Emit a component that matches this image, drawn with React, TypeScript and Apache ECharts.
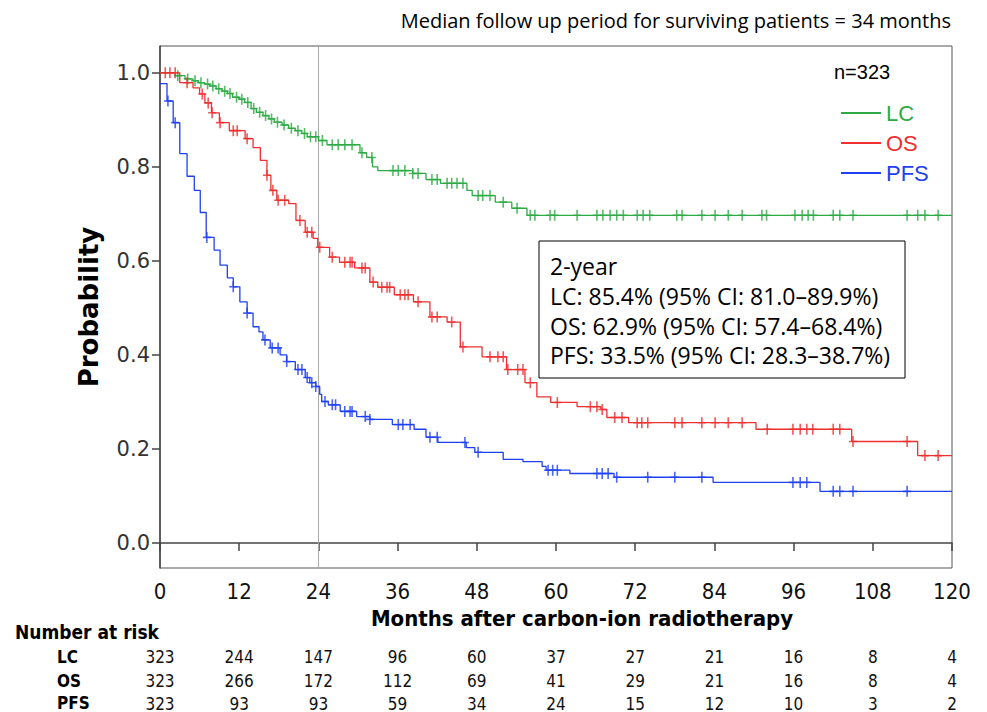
import React, { useEffect, useRef } from "react";
import * as echarts from "echarts";

// ---------- data ----------
const riskMonths = [0, 12, 24, 36, 48, 60, 72, 84, 96, 108, 120];
const riskLC = [323, 244, 147, 96, 60, 37, 27, 21, 16, 8, 4];
const riskOS = [323, 266, 172, 112, 69, 41, 29, 21, 16, 8, 4];
const riskPFS = [323, 93, 93, 59, 34, 24, 15, 12, 10, 3, 2];
const yTicks = [0, 0.2, 0.4, 0.6, 0.8, 1.0];

// Kaplan-Meier steps [month, survival]
const lcSteps: [number, number][] = [
  [0, 1], [2.3, 0.994], [3.8, 0.987], [5, 0.983], [5.8, 0.979], [6.8, 0.976], [7.5, 0.972],
  [8.5, 0.966], [9.4, 0.961], [10.2, 0.956], [11, 0.948], [12, 0.944], [12.8, 0.937],
  [13.8, 0.924], [14.6, 0.916], [15.6, 0.909], [16.5, 0.902], [17.3, 0.895], [18.5, 0.889],
  [19.5, 0.882], [20.5, 0.877], [21.5, 0.871], [22.3, 0.864], [24, 0.856], [25.3, 0.847],
  [30.3, 0.83], [31.3, 0.82], [32.2, 0.8], [33, 0.792], [38.3, 0.786], [40.3, 0.773],
  [42.5, 0.765], [46.5, 0.75], [47.3, 0.739], [50.8, 0.725], [53.3, 0.712], [55.6, 0.697],
];
const lcCensor = [
  2.7, 4.2, 5.3, 6.2, 7.2, 8, 8.9, 9.8, 10.6, 11.6, 12.4, 13.3, 14.2, 15.1, 16, 16.9, 17.8,
  18.8, 19.9, 20.9, 21.9, 22.8, 23.6, 24.6, 26.1, 27, 28, 29.1, 30.6, 32.1, 35.3, 36.1, 37.1,
  38.3, 39.1, 41.2, 42, 43.5, 44.2, 45, 45.9, 48.2, 48.9, 50, 52, 54.1, 56.1, 56.8, 59.1, 59.8,
  63.2, 66.2, 67.1, 68.2, 69.2, 70.2, 72.3, 73.2, 74.2, 78.3, 79.1, 82.1, 84.1, 86.1, 88.2,
  91.2, 91.9, 96.2, 97.3, 98.2, 99.0, 102.0, 103.0, 105.0, 113.2, 114.8, 115.9, 117.9,
];

const osSteps: [number, number][] = [
  [0, 1], [3, 0.979], [5, 0.968], [6, 0.955], [6.8, 0.936], [7.8, 0.915], [9, 0.894],
  [10.5, 0.877], [12.9, 0.86], [14.1, 0.841], [15.2, 0.814], [16.2, 0.782], [16.8, 0.75],
  [17.7, 0.729], [19.5, 0.722], [20.6, 0.686], [22, 0.661], [23.2, 0.648], [23.9, 0.629],
  [25.7, 0.608], [27.2, 0.597], [29.5, 0.585], [31.8, 0.555], [33, 0.544], [35.5, 0.528],
  [38.4, 0.513], [40.9, 0.481], [43.5, 0.47], [45.5, 0.417], [48.8, 0.396], [52.5, 0.369],
  [55.3, 0.341], [57.1, 0.311], [59.2, 0.299], [63.2, 0.29], [66.8, 0.284], [67.7, 0.267],
  [71, 0.256], [90.3, 0.242], [104.8, 0.216], [114.8, 0.186],
];
const osCensor = [
  0.8, 1.5, 2.3, 4.1, 6.4, 7.3, 7.9, 9.1, 11.1, 11.7, 13.2, 16.2, 17.1, 17.9, 18.9, 21.2, 22.3,
  23.0, 24.2, 26.1, 28.0, 28.8, 29.1, 30.6, 31.1, 32.3, 33.6, 34.4, 34.8, 36.4, 37.1, 37.6,
  39.1, 41.2, 42.0, 44.2, 45.9, 50.0, 51.2, 52.0, 52.7, 54.2, 55.0, 56.1, 60.2, 65.2, 66.2,
  67.0, 68.9, 70.0, 72.3, 73.0, 73.9, 78.0, 79.1, 82.1, 84.1, 86.1, 88.2, 92.0, 95.9, 97.0,
  98.0, 98.9, 102.0, 103.0, 105.0, 113.2, 115.9, 117.9,
];

const pfsSteps: [number, number][] = [
  [0, 0.977], [1.06, 0.94], [2.0, 0.894], [3.0, 0.828], [4.1, 0.78], [5.2, 0.75], [6.1, 0.703],
  [7.0, 0.65], [8.2, 0.623], [9.1, 0.591], [10.2, 0.564], [11.1, 0.545], [12.1, 0.513],
  [13.2, 0.489], [14.1, 0.46], [15.0, 0.449], [15.6, 0.432], [16.7, 0.415], [18.2, 0.4],
  [19.2, 0.386], [20.5, 0.369], [22.0, 0.352], [22.7, 0.341], [23.6, 0.333], [24.2, 0.316],
  [24.5, 0.301], [25.5, 0.294], [27.3, 0.28], [29.8, 0.269], [31.8, 0.263], [35.2, 0.252],
  [38.5, 0.242], [40.3, 0.225], [42.1, 0.214], [46.4, 0.203], [47.7, 0.193], [52.0, 0.178],
  [55.0, 0.173], [57.9, 0.163], [58.5, 0.155], [62.1, 0.148], [68.8, 0.14], [83.8, 0.129],
  [100, 0.11],
];
const pfsCensor = [
  1.2, 2.3, 7.1, 11.1, 13.2, 15.9, 17.0, 17.9, 19.2, 20.9, 21.5, 22.3, 23.0, 23.6, 25.0, 26.1,
  26.6, 28.0, 28.8, 29.1, 31.1, 31.8, 36.1, 36.8, 37.9, 40.9, 42.0, 46.2, 48.2, 58.8, 59.5,
  60.2, 66.2, 67.0, 67.9, 69.2, 73.9, 78.0, 82.1, 95.9, 97.0, 98.0, 102.0, 103.0, 105.0, 113.2,
];

// ---------- styles ----------
const GREEN = "#2DAA43";
const RED = "#EE3030";
const BLUE = "#1E40F0";
const NARROW = "'Liberation Sans Narrow', 'DejaVu Sans Condensed', 'Arial Narrow', sans-serif";
const PLUS = "path://M3.2,0H4.8V11H3.2Z M0,4.7H8V6.3H0Z";

const levelAt = (steps: [number, number][], t: number) => {
  let v = steps[0][1];
  for (const [tt, s] of steps) if (tt <= t) v = s;
  return v;
};
const curve = (steps: [number, number][]) => [...steps, [120, steps[steps.length - 1][1]]];
const censorPts = (steps: [number, number][], cs: number[]) => cs.map((t) => [t, levelAt(steps, t)]);

const riskAxis = (vals: number[], offset: number) => ({
  type: "value",
  gridIndex: 0,
  position: "bottom",
  offset,
  min: 0,
  max: 120,
  interval: 12,
  axisLine: { show: false },
  axisTick: { show: false },
  splitLine: { show: false },
  axisLabel: {
    margin: 0,
    fontSize: 17,
    fontFamily: NARROW,
    color: "#111",
    formatter: (v: number) => {
      const i = riskMonths.indexOf(Math.round(v));
      return i >= 0 ? String(vals[i]) : "";
    },
  },
});

export default function App() {
  const ref = useRef<HTMLDivElement>(null);
  useEffect(() => {
    if (!ref.current) return;
    const chart = echarts.init(ref.current, undefined, { renderer: "svg" });
    const lineSeries = (name: string, steps: [number, number][], color: string, extra: any = {}) => ({
      name,
      type: "line",
      step: "end",
      data: curve(steps),
      showSymbol: false,
      symbol: "none",
      lineStyle: { color, width: 1.3 },
      itemStyle: { color },
      z: 3,
      ...extra,
    });
    const censorSeries = (name: string, steps: [number, number][], cs: number[], color: string) => ({
      name,
      type: "scatter",
      data: censorPts(steps, cs),
      symbol: PLUS,
      symbolSize: [8, 11],
      itemStyle: { color },
      silent: true,
      z: 4,
    });
    const tableText = (text: string, x: number, y: number, size: number, bold = true) => ({
      type: "text",
      x,
      y,
      style: {
        text,
        fontSize: size,
        fontWeight: bold ? "bold" : "normal",
        fontFamily: NARROW,
        fill: "#000",
        verticalAlign: "middle",
      },
    });
    const boxText = (text: string, y: number) => ({
      type: "text",
      x: 550,
      y,
      style: { text, fontSize: 23, fontFamily: "'Open Sans', sans-serif", fill: "#000", verticalAlign: "middle" },
    });

    chart.setOption({
      animation: false,
      backgroundColor: "#fff",
      title: {
        text: "Median follow up period for surviving patients = 34 months",
        right: 31,
        top: 5,
        textStyle: { fontFamily: "'Open Sans', sans-serif", fontSize: 20, fontWeight: "normal", color: "#000" },
      },
      legend: {
        data: [
          { name: "LC", textStyle: { color: GREEN } },
          { name: "OS", textStyle: { color: RED } },
          { name: "PFS", textStyle: { color: BLUE } },
        ],
        orient: "vertical",
        left: 836,
        top: 97,
        itemWidth: 40,
        itemHeight: 2,
        icon: "rect",
        itemGap: 8,
        selectedMode: false,
        textStyle: { fontSize: 22, fontFamily: "'Liberation Sans', Arial, sans-serif" },
      },
      grid: { left: 160, right: 35, top: 46, bottom: 143, show: true, borderColor: "#555", borderWidth: 1 },
      xAxis: [
        {
          type: "value",
          min: 0,
          max: 120,
          interval: 12,
          axisLine: { lineStyle: { color: "#444", width: 1.5 } },
          axisTick: { length: 8, lineStyle: { color: "#444", width: 1.5 } },
          axisLabel: { fontSize: 22, margin: 12, color: "#111", fontFamily: NARROW },
          splitLine: { show: false },
        },
        riskAxis(riskLC, 80),
        riskAxis(riskOS, 104),
        riskAxis(riskPFS, 127),
      ],
      yAxis: {
        type: "value",
        min: -0.053,
        max: 1.057,
        axisLine: { show: true, lineStyle: { color: "#444", width: 1.5 } },
        axisTick: { show: true, customValues: yTicks, length: 8, lineStyle: { color: "#444", width: 1.5 } },
        axisLabel: {
          customValues: yTicks,
          formatter: (v: number) => v.toFixed(1),
          fontSize: 21,
          margin: 10,
          color: "#333",
          fontFamily: "'DejaVu Sans', sans-serif",
        },
        splitLine: { show: false },
        name: "Probability",
        nameLocation: "middle",
        nameGap: 58,
        nameTextStyle: { fontSize: 26, fontWeight: "bold", fontFamily: "'DejaVu Sans', sans-serif", color: "#000" },
      },
      series: [
        lineSeries("LC", lcSteps, GREEN, {
          markLine: {
            silent: true,
            symbol: ["none", "none"],
            label: { show: false },
            lineStyle: { color: "#aaa", width: 1, type: "solid" },
            data: [{ xAxis: 24 }],
            z: 1,
          },
        }),
        lineSeries("OS", osSteps, RED),
        lineSeries("PFS", pfsSteps, BLUE),
        censorSeries("LC censored", lcSteps, lcCensor, GREEN),
        censorSeries("OS censored", osSteps, osCensor, RED),
        censorSeries("PFS censored", pfsSteps, pfsCensor, BLUE),
      ],
      graphic: [
        {
          type: "text",
          x: 834,
          y: 72,
          style: { text: "n=323", fontSize: 20, fontFamily: "'Liberation Sans', Arial, sans-serif", fill: "#000", verticalAlign: "middle" },
        },
        {
          type: "rect",
          shape: { x: 539, y: 241, width: 366, height: 137 },
          style: { fill: "#fff", stroke: "#000", lineWidth: 1 },
          z: 10,
        },
        { ...boxText("2-year", 266), z: 11 },
        { ...boxText("LC: 85.4% (95% CI: 81.0–89.9%)", 296), z: 11 },
        { ...boxText("OS: 62.9% (95% CI: 57.4–68.4%)", 326), z: 11 },
        { ...boxText("PFS: 33.5% (95% CI: 28.3–38.7%)", 355), z: 11 },
        {
          type: "text",
          x: 582,
          y: 618,
          style: {
            text: "Months after carbon-ion radiotherapy",
            fontSize: 22,
            fontWeight: "bold",
            fontFamily: NARROW,
            fill: "#000",
            align: "center",
            verticalAlign: "middle",
          },
        },
        tableText("Number at risk", 15, 632, 19),
        tableText("LC", 57, 657, 17),
        tableText("OS", 57, 681, 17),
        tableText("PFS", 57, 703, 17),
      ],
    });
    return () => chart.dispose();
  }, []);
  return <div ref={ref} style={{ width: 987, height: 712, position: "absolute", left: 0, top: 0 }} />;
}
